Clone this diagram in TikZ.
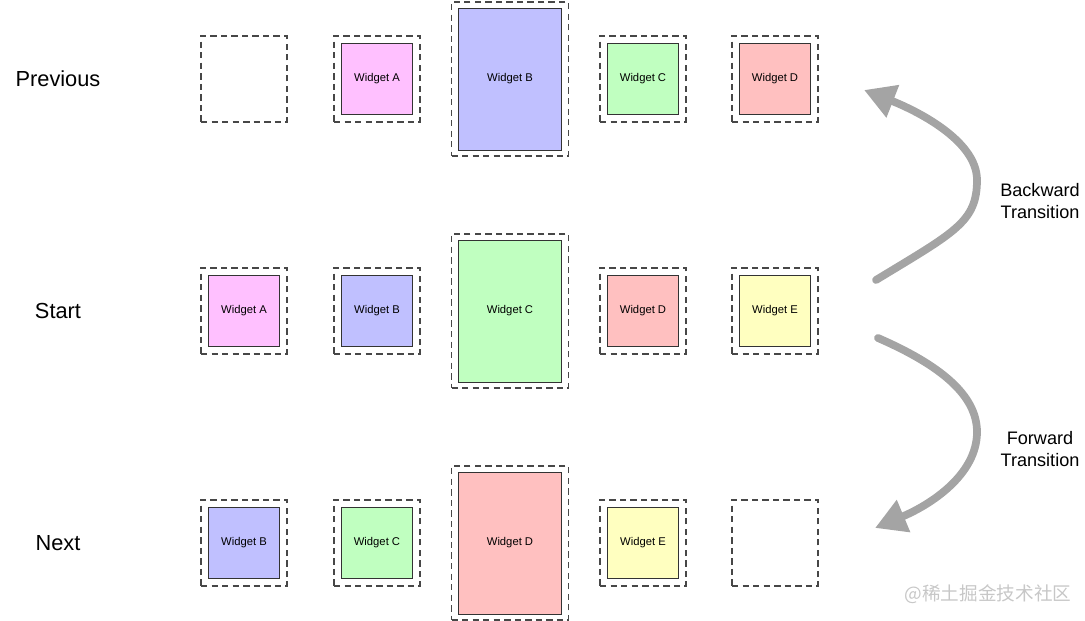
\documentclass[tikz,border=0pt]{standalone}
\usepackage{fontspec}
\setmainfont{Liberation Sans}
\newfontfamily\cjkfont{Noto Sans CJK SC}
\usetikzlibrary{arrows.meta}

\definecolor{rosa}{HTML}{FFC0FF}
\definecolor{blu}{HTML}{C0C0FF}
\definecolor{verde}{HTML}{C0FFC0}
\definecolor{rosso}{HTML}{FFC0C0}
\definecolor{giallo}{HTML}{FFFFC0}
\definecolor{bordo}{HTML}{474747}
\definecolor{freccia}{HTML}{A4A4A4}

\tikzset{
  slot/.style={draw=bordo, line width=1.1pt, dash pattern=on 3.6pt off 2.4pt,
    minimum width=1.72cm, minimum height=1.72cm, inner sep=0pt},
  bigslot/.style={slot, minimum width=2.34cm, minimum height=3.08cm},
  widget/.style={draw=black!80, line width=0.5pt, minimum width=1.42cm,
    minimum height=1.42cm, inner sep=0pt, font=\fontsize{6.4}{7.5}\selectfont},
  bigwidget/.style={widget, minimum width=2.06cm, minimum height=2.84cm},
  riga/.style={font=\fontsize{12.4}{14}\selectfont},
  trans/.style={align=center, font=\fontsize{10.3}{12.5}\selectfont},
  arco/.style={draw=freccia, line width=4.4pt, line cap=round,
    -{Triangle[length=0.62cm, width=0.66cm]}},
}

\begin{document}
\begin{tikzpicture}[x=0.02cm, y=-0.02cm]
\useasboundingbox (0,0) rectangle (1085,621);

% etichette
\node[riga] (prev) at (58,79) {Previous};
\node[riga] (start) at (58,311) {Start};
\node[riga] (next) at (58,543) {Next};

% riga precedente
\node[slot] (p1) at (244,79) {};
\node[slot] (p2) at (377,79) {};
\node[bigslot] (p3) at (510,79) {};
\node[slot] (p4) at (643,79) {};
\node[slot] (p5) at (775,79) {};
\node[widget, fill=rosa] (pa) at (p2) {Widget A};
\node[bigwidget, fill=blu] (pb) at (p3) {Widget B};
\node[widget, fill=verde] (pc) at (p4) {Widget C};
\node[widget, fill=rosso] (pd) at (p5) {Widget D};

% riga iniziale
\node[slot] (s1) at (244,311) {};
\node[slot] (s2) at (377,311) {};
\node[bigslot] (s3) at (510,311) {};
\node[slot] (s4) at (643,311) {};
\node[slot] (s5) at (775,311) {};
\node[widget, fill=rosa] (sa) at (s1) {Widget A};
\node[widget, fill=blu] (sb) at (s2) {Widget B};
\node[bigwidget, fill=verde] (sc) at (s3) {Widget C};
\node[widget, fill=rosso] (sd) at (s4) {Widget D};
\node[widget, fill=giallo] (se) at (s5) {Widget E};

% riga successiva
\node[slot] (n1) at (244,543) {};
\node[slot] (n2) at (377,543) {};
\node[bigslot] (n3) at (510,543) {};
\node[slot] (n4) at (643,543) {};
\node[slot] (n5) at (775,543) {};
\node[widget, fill=blu] (nb) at (n1) {Widget B};
\node[widget, fill=verde] (nc) at (n2) {Widget C};
\node[bigwidget, fill=rosso] (nd) at (n3) {Widget D};
\node[widget, fill=giallo] (ne) at (n4) {Widget E};

% frecce
\coordinate (bstart) at (876,280);
\coordinate (bmid) at (977,180);
\coordinate (btip) at (864,90);
\draw[arco] (bstart) .. controls (955,232) and (977,222) .. (bmid)
  .. controls (977,140) and (915,110) .. (btip);
\node[trans] (back) at (1040,201) {Backward\\Transition};

\coordinate (fstart) at (878,338);
\coordinate (fmid) at (977,432);
\coordinate (ftip) at (875,528);
\draw[arco] (fstart) .. controls (940,365) and (977,395) .. (fmid)
  .. controls (977,475) and (930,505) .. (ftip);
\node[trans] (forw) at (1040,449) {Forward\\Transition};

% filigrana
\node[text=black!22, font=\cjkfont\fontsize{10.6}{12}\selectfont] (wm) at (988,594) {@稀土掘金技术社区};

\end{tikzpicture}
\end{document}
